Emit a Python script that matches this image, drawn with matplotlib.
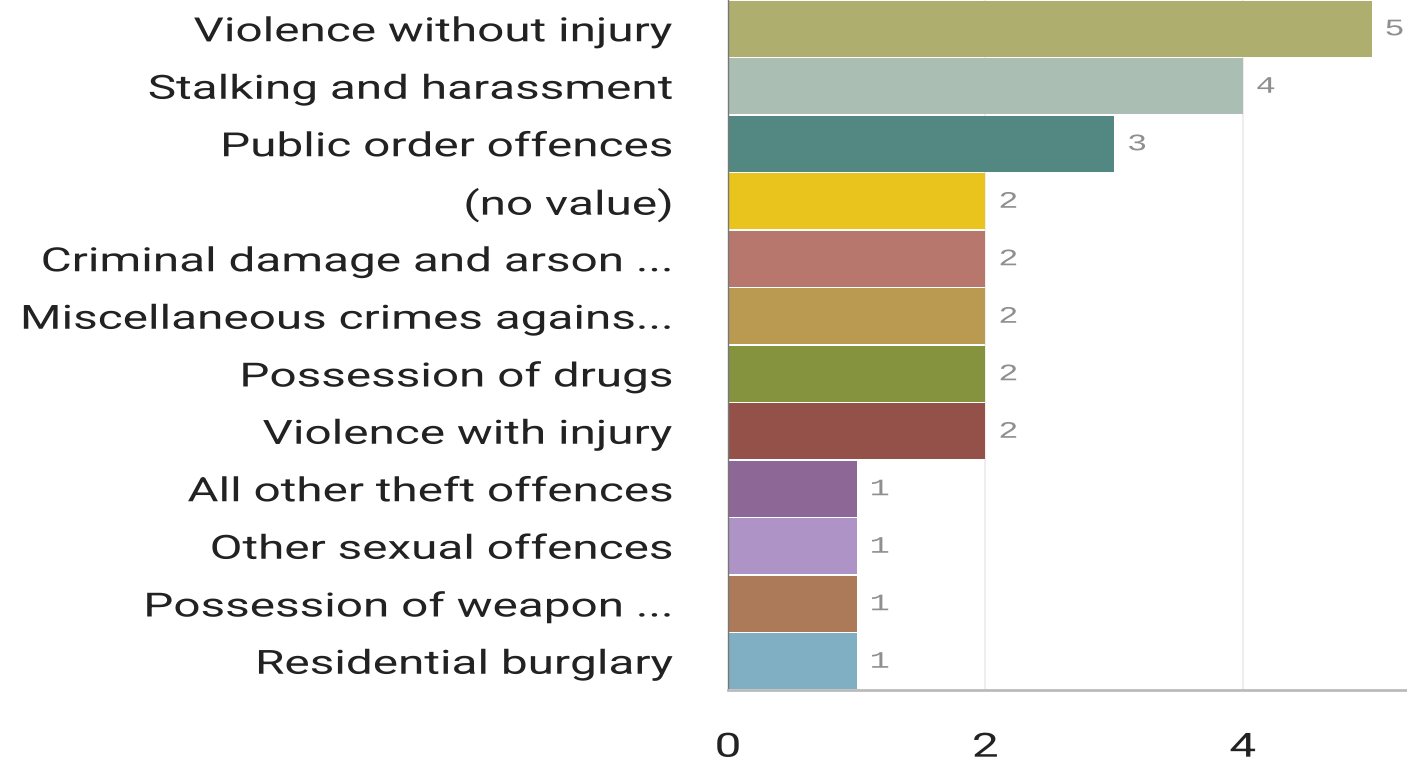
import numpy as np
import matplotlib.pyplot as plt
from matplotlib import patheffects
from matplotlib.transforms import Affine2D

# Datos
categories = [
    'Violence without injury',
    'Stalking and harassment',
    'Public order offences',
    '(no value)',
    'Criminal damage and arson ...',
    'Miscellaneous crimes agains...',
    'Possession of drugs',
    'Violence with injury',
    'All other theft offences',
    'Other sexual offences',
    'Possession of weapon ...',
    'Residential burglary',
]
counts = [5, 4, 3, 2, 2, 2, 2, 2, 1, 1, 1, 1]
colors = ['#AEAE6F', '#AABEB4', '#528881', '#E9C41C', '#B8776D', '#B99A50',
          '#86933E', '#93514A', '#8D6795', '#AE93C6', '#AD7A59', '#80AEC2']
x_ticks = [0, 2, 4]

SX = 1.43  # el texto de la referencia esta estirado a lo ancho


class Stretch(patheffects.AbstractPathEffect):
    """Estira el texto horizontalmente alrededor de un ancla."""
    def __init__(self, sx, anchor='left'):
        super().__init__()
        self.sx = sx
        self.anchor = anchor

    def draw_path(self, renderer, gc, tpath, affine, rgbFace=None):
        ext = tpath.get_extents()
        if self.anchor == 'right':
            x0 = ext.x1
        elif self.anchor == 'center':
            x0 = (ext.x0 + ext.x1) / 2
        else:
            x0 = 0
        t = Affine2D().translate(-x0, 0).scale(self.sx, 1).translate(x0, 0) + affine
        renderer.draw_path(gc, tpath, t, rgbFace)


fig = plt.figure(figsize=(14.07, 7.61), dpi=100)
ax = fig.add_axes([728 / 1407, 1 - 690 / 761, 1 - 728 / 1407, 690 / 761])

y = np.arange(len(categories))
ax.barh(y, counts, height=0.98, color=colors, zorder=2)

for yi, c in zip(y, counts):
    ax.text(c + 0.1, yi, str(c), va='center', ha='left', fontsize=17,
            family='Liberation Mono', color='#8f8f8f',
            path_effects=[Stretch(SX, 'left')])

ax.set_ylim(len(categories) - 0.5, -0.5)
ax.set_xlim(0, 679 / 128.7)
ax.set_yticks(y)
ax.set_yticklabels(categories, fontsize=24, family='Roboto', color='#222222')
ax.set_xticks(x_ticks)
ax.set_xticklabels([str(t) for t in x_ticks], fontsize=24, family='Roboto', color='#222222')
ax.tick_params(axis='y', length=0, pad=40)
ax.tick_params(axis='x', length=0, pad=30)
for lab in ax.get_yticklabels():
    lab.set_path_effects([Stretch(SX, 'right')])
for lab in ax.get_xticklabels():
    lab.set_path_effects([Stretch(SX, 'center')])

ax.grid(axis='x', color='#eeeeee', linewidth=1.5, zorder=0)
for s in ['top', 'right']:
    ax.spines[s].set_visible(False)
ax.spines['left'].set_color('#777777')
ax.spines['left'].set_linewidth(1)
ax.spines['bottom'].set_color('#bbbbbb')
ax.spines['bottom'].set_linewidth(2)

fig.savefig('out.png', dpi=100)
